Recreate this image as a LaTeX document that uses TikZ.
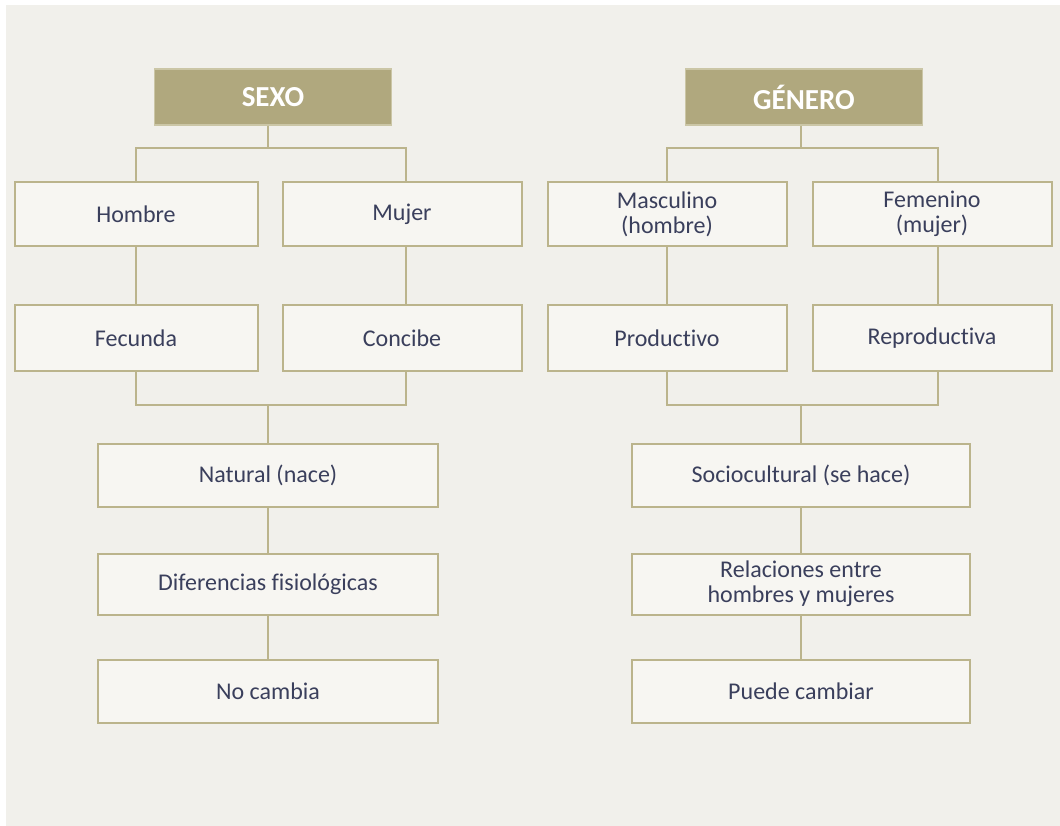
\documentclass[tikz,border=0pt]{standalone}
\usepackage{fontspec}
\setmainfont{Carlito}[RawFeature=-liga]
\definecolor{bg}{HTML}{F1F0EB}
\definecolor{boxfill}{HTML}{F7F6F2}
\definecolor{boxline}{HTML}{BBB48C}
\definecolor{headfill}{HTML}{B0A87E}
\definecolor{headline}{HTML}{CBC6A6}
\definecolor{txt}{HTML}{3A3F5C}
\begin{document}
\begin{tikzpicture}[x=1pt,y=-1pt,
  cell/.style={draw=boxline,line width=2pt,fill=boxfill,text=txt,font=\fontsize{24}{25}\selectfont,align=center},
  head/.style={draw=headline,line width=1.5pt,fill=headfill,text=white,font=\fontsize{29}{30}\selectfont\bfseries},
  link/.style={draw=boxline,line width=2pt}]
\fill[white] (0,0) rectangle (1060,826);
\fill[bg] (6,5) rectangle (1060,826);
\useasboundingbox (0,0) rectangle (1060,826);
% headers
\node[head,minimum width=237pt,minimum height=56pt] (sexo) at (273,97) {SEXO};
\node[head,minimum width=237pt,minimum height=56pt] (genero) at (804,97) {GÉNERO};
% row 1
\node[cell,minimum width=243pt,minimum height=64pt] (hombre) at (136,214) {Hombre};
\node[cell,minimum width=239pt,minimum height=64pt] (mujer) at (402,214) {Mujer};
\node[cell,minimum width=239pt,minimum height=64pt] (masc) at (667,214) {Masculino\\(hombre)};
\node[cell,minimum width=239pt,minimum height=64pt] (fem) at (932,214) {Femenino\\(mujer)};
% row 2
\node[cell,minimum width=243pt,minimum height=65pt] (fecunda) at (136,338) {Fecunda};
\node[cell,minimum width=239pt,minimum height=65pt] (concibe) at (402,338) {Concibe};
\node[cell,minimum width=239pt,minimum height=65pt] (prod) at (667,338) {Productivo};
\node[cell,minimum width=239pt,minimum height=65pt] (repro) at (932,338) {Reproductiva};
% lower rows
\node[cell,minimum width=340pt,minimum height=63pt] (natural) at (268,475) {Natural (nace)};
\node[cell,minimum width=340pt,minimum height=61pt] (difer) at (268,584) {Diferencias fisiológicas};
\node[cell,minimum width=340pt,minimum height=63pt] (nocambia) at (268,691) {No cambia};
\node[cell,minimum width=338pt,minimum height=63pt] (socio) at (801,475) {Sociocultural (se hace)};
\node[cell,minimum width=338pt,minimum height=61pt] (relac) at (801,584) {Relaciones entre\\hombres y mujeres};
\node[cell,minimum width=338pt,minimum height=63pt] (puede) at (801,691) {Puede cambiar};
% connectors left
\coordinate (sj) at (268,148);
\coordinate (gj) at (801,148);
\draw[link] (sexo.south -| sj) -- (sj);
\draw[link] (hombre.north) |- (sj) -| (406,182);
\draw[link] (hombre.south) -- (fecunda.north);
\draw[link] (406,246) -- (406,305.5);
\coordinate (sb) at (268,405);
\draw[link] (fecunda.south) |- (sb) -| (406,370.5);
\draw[link] (sb) -- (natural.north);
\draw[link] (natural.south) -- (difer.north);
\draw[link] (difer.south) -- (nocambia.north);
% connectors right
\draw[link] (genero.south -| gj) -- (gj);
\draw[link] (masc.north) |- (gj) -| (938,182);
\draw[link] (masc.south) -- (prod.north);
\draw[link] (938,246) -- (938,305.5);
\coordinate (gb) at (801,405);
\draw[link] (prod.south) |- (gb) -| (938,370.5);
\draw[link] (gb) -- (socio.north);
\draw[link] (socio.south) -- (relac.north);
\draw[link] (relac.south) -- (puede.north);
\end{tikzpicture}
\end{document}
